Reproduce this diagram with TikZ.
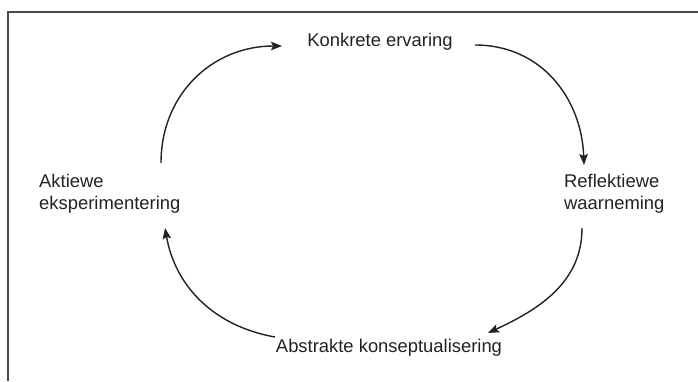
\documentclass[tikz,border=0pt]{standalone}
\usepackage{fontspec}
\setmainfont{Liberation Sans}
\usetikzlibrary{arrows.meta}
\definecolor{ink}{HTML}{222222}
\definecolor{framec}{HTML}{4a4a4a}
\begin{document}
\begin{tikzpicture}[x=1pt,y=1pt,
  lbl/.style={font=\fontsize{18.4}{22}\selectfont, text=ink, inner sep=0pt},
  arr/.style={draw=ink, line width=1.4pt, -{Stealth[length=11pt,width=8.5pt,inset=2pt]}},
  framel/.style={draw=framec, line width=1.8pt}]
\useasboundingbox (0,0) rectangle (698,381);
\fill[white] (0,0) rectangle (698,381);
% frame (open at right and bottom, as in the reference)
\coordinate (fa) at (8,0);
\coordinate (fb) at (8,369);
\coordinate (fc) at (698,369);
\draw[framel] (fa) -- (fb) -- (fc);
% labels
\node[lbl] (ke) at (380,339) {Konkrete ervaring};
\node[lbl, anchor=west, align=left] (ae) at (39,187) {Aktiewe\\eksperimentering};
\node[lbl, anchor=west, align=left] (rw) at (564,187) {Reflektiewe\\waarneming};
\node[lbl] (ak) at (389,33) {Abstrakte konseptualisering};
% connector end points
\coordinate (a1s) at (161,218);
\coordinate (a1e) at (282,335);
\coordinate (a2s) at (475,336);
\coordinate (a2e) at (584,216);
\coordinate (a3s) at (582,153);
\coordinate (a3e) at (488,48);
\coordinate (a4s) at (275,44);
\coordinate (a4e) at (165,153);
% cycle arrows
\draw[arr] (a1s) to[out=90,in=180,looseness=1.05] (a1e);
\draw[arr] (a2s) to[out=0,in=92,looseness=1.05] (a2e);
\draw[arr] (a3s) to[out=-90,in=25,looseness=1.0] (a3e);
\draw[arr] (a4s) to[out=170,in=-80,looseness=1.0] (a4e);
\end{tikzpicture}
\end{document}
